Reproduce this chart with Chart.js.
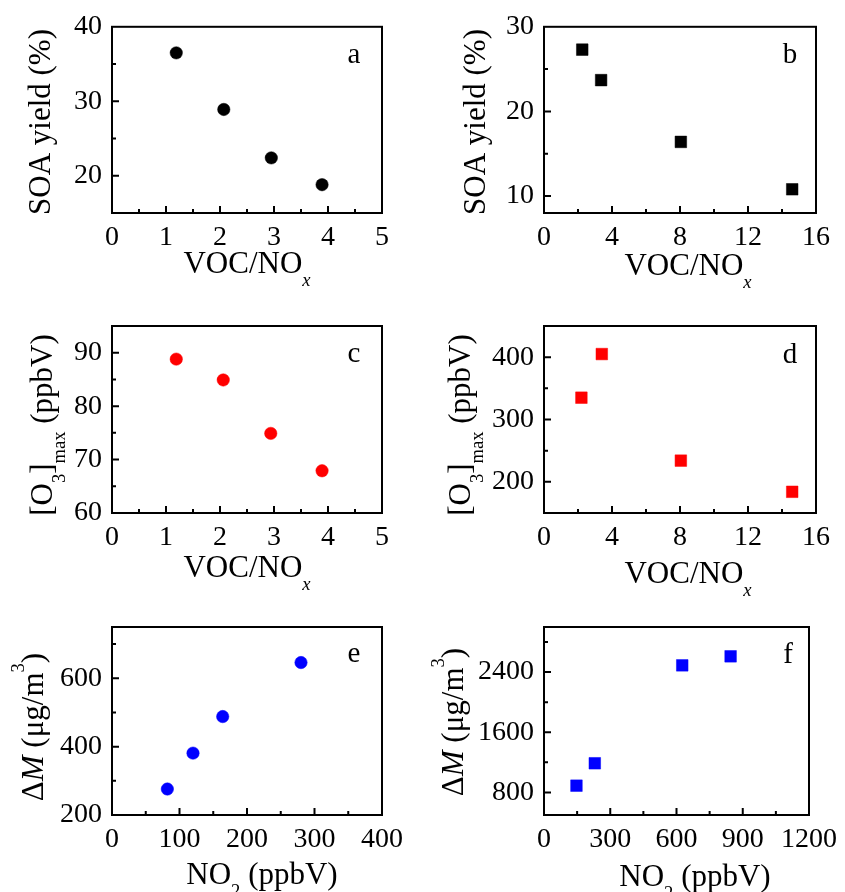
<!DOCTYPE html>
<html>
<head>
<meta charset="utf-8">
<script src="https://cdn.jsdelivr.net/npm/chart.js@4.4.1/dist/chart.umd.min.js"></script>
<style>
  html, body { margin: 0; padding: 0; background: #fff; }
  #wrap { position: relative; width: 845px; height: 892px; overflow: hidden; }
  #wrap canvas { position: absolute; left: 0; top: 0; }
</style>
</head>
<body>
<div id="wrap">
  <canvas id="pa" width="845" height="892"></canvas>
  <canvas id="pb" width="845" height="892"></canvas>
  <canvas id="pc" width="845" height="892"></canvas>
  <canvas id="pd" width="845" height="892"></canvas>
  <canvas id="pe" width="845" height="892"></canvas>
  <canvas id="pf" width="845" height="892"></canvas>
</div>
<script>
// a: SOA yield vs VOC/NOx (circles)
const ratioA = [1.19, 2.07, 2.95, 3.89];
const yieldA = [36.5, 28.9, 22.4, 18.8];
// b: SOA yield vs VOC/NOx (squares)
const ratioB = [2.25, 3.36, 8.05, 14.6];
const yieldB = [27.3, 23.7, 16.4, 10.8];
// c: [O3]max vs VOC/NOx
const ratioC = [1.19, 2.06, 2.94, 3.89];
const o3C = [88.8, 84.9, 74.9, 67.9];
// d: [O3]max vs VOC/NOx
const ratioD = [2.2, 3.4, 8.05, 14.6];
const o3D = [335, 405, 234, 184];
// e: dM vs NO2
const no2E = [82, 120, 164, 280];
const dmE = [276, 381, 488, 646];
// f: dM vs NO2
const no2F = [147, 230, 626, 845];
const dmF = [890, 1188, 2490, 2610];

// tick labels
const xTicksAC = [0, 1, 2, 3, 4, 5];
const xTicksBD = [0, 4, 8, 12, 16];
const xTicksE = [0, 100, 200, 300, 400];
const xTicksF = [0, 300, 600, 900, 1200];
const yTicksA = [20, 30, 40];
const yTicksB = [10, 20, 30];
const yTicksC = [60, 70, 80, 90];
const yTicksD = [200, 300, 400];
const yTicksE = [200, 400, 600];
const yTicksF = [800, 1600, 2400];

// axis titles (rich text pieces)
const titleVoc = [{ t: 'VOC/NO' }, { t: 'x', sub: true, it: true }];
const titleNo2 = [{ t: 'NO' }, { t: '2', sub: true }, { t: ' (ppbV)' }];
const titleSoa = [{ t: 'SOA yield (%)' }];
const titleO3 = [{ t: '[O' }, { t: '3', sub: true }, { t: ']' }, { t: 'max', sub: true }, { t: ' (ppbV)' }];
const titleDm = [{ t: '\u0394' }, { t: 'M', it: true }, { t: ' (\u03bcg/m' }, { t: '3', sup: true }, { t: ')' }];

const FONT = '"Liberation Serif", "Times New Roman", serif';
const W = 845, H = 892;

function segFont(s, size) {
  const sz = (s.sub || s.sup) ? size * 0.6 : size;
  return (s.it ? 'italic ' : '') + sz + 'px ' + FONT;
}

function drawRich(ctx, segs, px, py, size, vertical) {
  ctx.save();
  ctx.fillStyle = '#000';
  ctx.textBaseline = 'alphabetic';
  ctx.textAlign = 'left';
  let total = 0;
  const widths = segs.map(s => { ctx.font = segFont(s, size); const w = ctx.measureText(s.t).width; total += w; return w; });
  ctx.translate(px, py);
  if (vertical) ctx.rotate(-Math.PI / 2);
  let x = -total / 2;
  segs.forEach((s, i) => {
    ctx.font = segFont(s, size);
    let dy = 0;
    if (s.sub) dy = size * 0.42;
    if (s.sup) dy = -size * 0.6;
    ctx.fillText(s.t, x, dy);
    x += widths[i];
  });
  ctx.restore();
}

const frame = {
  id: 'frame',
  afterDraw(chart, args, o) {
    const { ctx, chartArea: a, scales: { x, y } } = chart;
    ctx.save();
    ctx.strokeStyle = '#000';
    ctx.lineWidth = 2;
    ctx.beginPath();
    for (let k = Math.ceil(x.min / o.xMinor - 1e-9); k * o.xMinor <= x.max + 1e-9; k++) {
      const p = x.getPixelForValue(k * o.xMinor);
      if (Math.abs(p - a.left) < 2 || Math.abs(p - a.right) < 2) continue;
      const len = k % 2 === 0 ? 7 : 4;
      ctx.moveTo(p, a.bottom); ctx.lineTo(p, a.bottom - len);
    }
    for (let k = Math.ceil(y.min / o.yMinor - 1e-9); k * o.yMinor <= y.max + 1e-9; k++) {
      const p = y.getPixelForValue(k * o.yMinor);
      if (Math.abs(p - a.top) < 2 || Math.abs(p - a.bottom) < 2) continue;
      const len = k % 2 === 0 ? 7 : 4;
      ctx.moveTo(a.left, p); ctx.lineTo(a.left + len, p);
    }
    ctx.stroke();
    ctx.strokeRect(a.left, a.top, a.right - a.left, a.bottom - a.top);
    ctx.restore();
  }
};

const titles = {
  id: 'titles',
  afterDraw(chart, args, o) {
    const ctx = chart.ctx;
    drawRich(ctx, o.x, o.xAt[0], o.xAt[1], 31, false);
    drawRich(ctx, o.y, o.yAt[0], o.yAt[1], 31, true);
    ctx.save();
    ctx.fillStyle = '#000';
    ctx.font = '29px ' + FONT;
    ctx.textAlign = 'center';
    ctx.textBaseline = 'alphabetic';
    ctx.fillText(o.tag, o.tagAt[0], o.tagAt[1]);
    ctx.restore();
  }
};

function panel(id, xs, ys, p) {
  const tickFont = { family: FONT, size: 28 };
  new Chart(document.getElementById(id), {
    type: 'scatter',
    data: {
      datasets: [{
        data: xs.map((v, i) => ({ x: v, y: ys[i] })),
        backgroundColor: p.color,
        borderColor: p.color,
        pointStyle: p.shape,
        pointRadius: p.shape === 'rect' ? 8.2 : 6.2,
        pointBorderWidth: 0.5
      }]
    },
    options: {
      responsive: false,
      animation: false,
      events: [],
      layout: { padding: { left: p.box[0] - 100, right: W - p.box[1], top: p.box[2], bottom: H - p.box[3] - 60 } },
      plugins: {
        legend: { display: false },
        tooltip: { enabled: false },
        frame: { xMinor: p.xMinor, yMinor: p.yMinor },
        titles: { x: p.xTitle, xAt: p.xAt, y: p.yTitle, yAt: p.yAt, tag: p.tag, tagAt: p.tagAt }
      },
      scales: {
        x: {
          type: 'linear', min: p.xr[0], max: p.xr[1],
          afterBuildTicks: s => { s.ticks = p.xt.map(v => ({ value: v })); },
          afterFit: s => { s.height = 60; },
          grid: { display: false, drawTicks: false },
          border: { display: false },
          ticks: { font: tickFont, color: '#000', padding: 8, maxRotation: 0, autoSkip: false, callback: v => String(v) }
        },
        y: {
          type: 'linear', min: p.yr[0], max: p.yr[1],
          afterBuildTicks: s => { s.ticks = p.yt.map(v => ({ value: v })); },
          afterFit: s => { s.width = 100; },
          grid: { display: false, drawTicks: false },
          border: { display: false },
          ticks: { font: tickFont, color: '#000', padding: 10, autoSkip: false, callback: v => String(v) }
        }
      }
    },
    plugins: [frame, titles]
  });
}

panel('pa', ratioA, yieldA, {
  box: [112, 382, 24, 213], xr: [0, 5], yr: [15, 40], xt: xTicksAC, yt: yTicksA,
  xMinor: 0.5, yMinor: 5, color: '#000000', shape: 'circle',
  xTitle: titleVoc, xAt: [247, 273], yTitle: titleSoa, yAt: [50, 122], tag: 'a', tagAt: [354, 63]
});
panel('pb', ratioB, yieldB, {
  box: [544, 816, 24, 213], xr: [0, 16], yr: [8, 30], xt: xTicksBD, yt: yTicksB,
  xMinor: 2, yMinor: 5, color: '#000000', shape: 'rect',
  xTitle: titleVoc, xAt: [688, 275], yTitle: titleSoa, yAt: [485, 122], tag: 'b', tagAt: [790, 63]
});
panel('pc', ratioC, o3C, {
  box: [112, 382, 326, 513], xr: [0, 5], yr: [60, 95], xt: xTicksAC, yt: yTicksC,
  xMinor: 0.5, yMinor: 5, color: '#ff0000', shape: 'circle',
  xTitle: titleVoc, xAt: [247, 577], yTitle: titleO3, yAt: [52, 425], tag: 'c', tagAt: [354, 362]
});
panel('pd', ratioD, o3D, {
  box: [544, 816, 326, 513], xr: [0, 16], yr: [150, 450], xt: xTicksBD, yt: yTicksD,
  xMinor: 2, yMinor: 50, color: '#ff0000', shape: 'rect',
  xTitle: titleVoc, xAt: [688, 583], yTitle: titleO3, yAt: [470, 425], tag: 'd', tagAt: [790, 363]
});
panel('pe', no2E, dmE, {
  box: [112, 382, 627, 815], xr: [0, 400], yr: [200, 750], xt: xTicksE, yt: yTicksE,
  xMinor: 50, yMinor: 100, color: '#0000ff', shape: 'circle',
  xTitle: titleNo2, xAt: [262, 884], yTitle: titleDm, yAt: [43, 727], tag: 'e', tagAt: [354, 662]
});
panel('pf', no2F, dmF, {
  box: [544, 816, 627, 815], xr: [0, 1200], yr: [500, 3000], xt: xTicksF, yt: yTicksF,
  xMinor: 150, yMinor: 400, color: '#0000ff', shape: 'rect',
  xTitle: titleNo2, xAt: [695, 886], yTitle: titleDm, yAt: [463, 722], tag: 'f', tagAt: [788, 663]
});
</script>
</body>
</html>
